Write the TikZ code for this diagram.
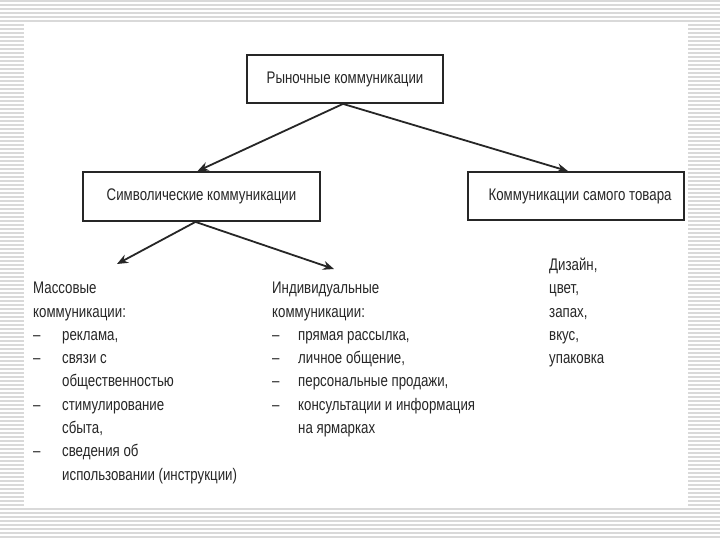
\documentclass[tikz,border=0pt]{standalone}
\usepackage{fontspec}
\setmainfont{Liberation Sans}[FakeStretch=0.79]
\usepackage{tikz}
\usetikzlibrary{arrows.meta, positioning, calc}
\definecolor{ink}{HTML}{262626}
\definecolor{stripe}{HTML}{D9D9D9}
\newcommand{\dashitem}[1]{\makebox[#1][l]{--}}
\tikzset{
	box/.style={draw=ink, line width=1.8pt, minimum width=196pt, minimum height=48pt, inner sep=0pt},
	arr/.style={draw=ink, line width=1.8pt, -{Stealth[length=11pt, width=9pt]}},
	list/.style={anchor=north west, align=left, inner sep=0pt}
}

\begin{document}
\begin{tikzpicture}[x=1pt, y=-1pt, font=\fontsize{16.8}{23.3}\selectfont, text=ink]
	\useasboundingbox (0,0) rectangle (720,540);
	% striped slide frame
	\foreach \y in {1,5,...,540}
		\draw[stripe, line width=1.2pt] (0,\y) -- (720,\y);
	\fill[white] (24,22) rectangle (688,507);
	% boxes
	\node[box] (market) at (345,79) {Рыночные коммуникации};
	\node[box, minimum width=237pt, minimum height=49pt] (symbolic) at (201.5,196.5) {Символические коммуникации};
	\node[box, minimum width=216pt] (product) at (576,196) {\hspace*{8pt}Коммуникации самого товара};
	% lists
	\node[list] (mass) at (33,282) {Массовые\\
		коммуникации:\\
		\dashitem{29pt}реклама,\\
		\dashitem{29pt}связи с\\
		\hspace*{29pt}общественностью\\
		\dashitem{29pt}стимулирование\\
		\hspace*{29pt}сбыта,\\
		\dashitem{29pt}сведения об\\
		\hspace*{29pt}использовании (инструкции)};
	\node[list] (indiv) at (272,282) {Индивидуальные\\
		коммуникации:\\
		\dashitem{26pt}прямая рассылка,\\
		\dashitem{26pt}личное общение,\\
		\dashitem{26pt}персональные продажи,\\
		\dashitem{26pt}консультации и информация\\
		\hspace*{26pt}на ярмарках};
	\node[list] (goods) at (549,258) {Дизайн,\\цвет,\\запах,\\вкус,\\упаковка};
	% arrows
	\coordinate (massin) at (117,264);
	\coordinate (indivin) at (334,269);
	\draw[arr] ([xshift=-2pt]market.south) -- ([xshift=-4pt]symbolic.north);
	\draw[arr] ([xshift=-2pt]market.south) -- ([xshift=-8pt]product.north);
	\draw[arr] ([xshift=-6pt]symbolic.south) -- (massin);
	\draw[arr] ([xshift=-6pt]symbolic.south) -- (indivin);
\end{tikzpicture}
\end{document}
